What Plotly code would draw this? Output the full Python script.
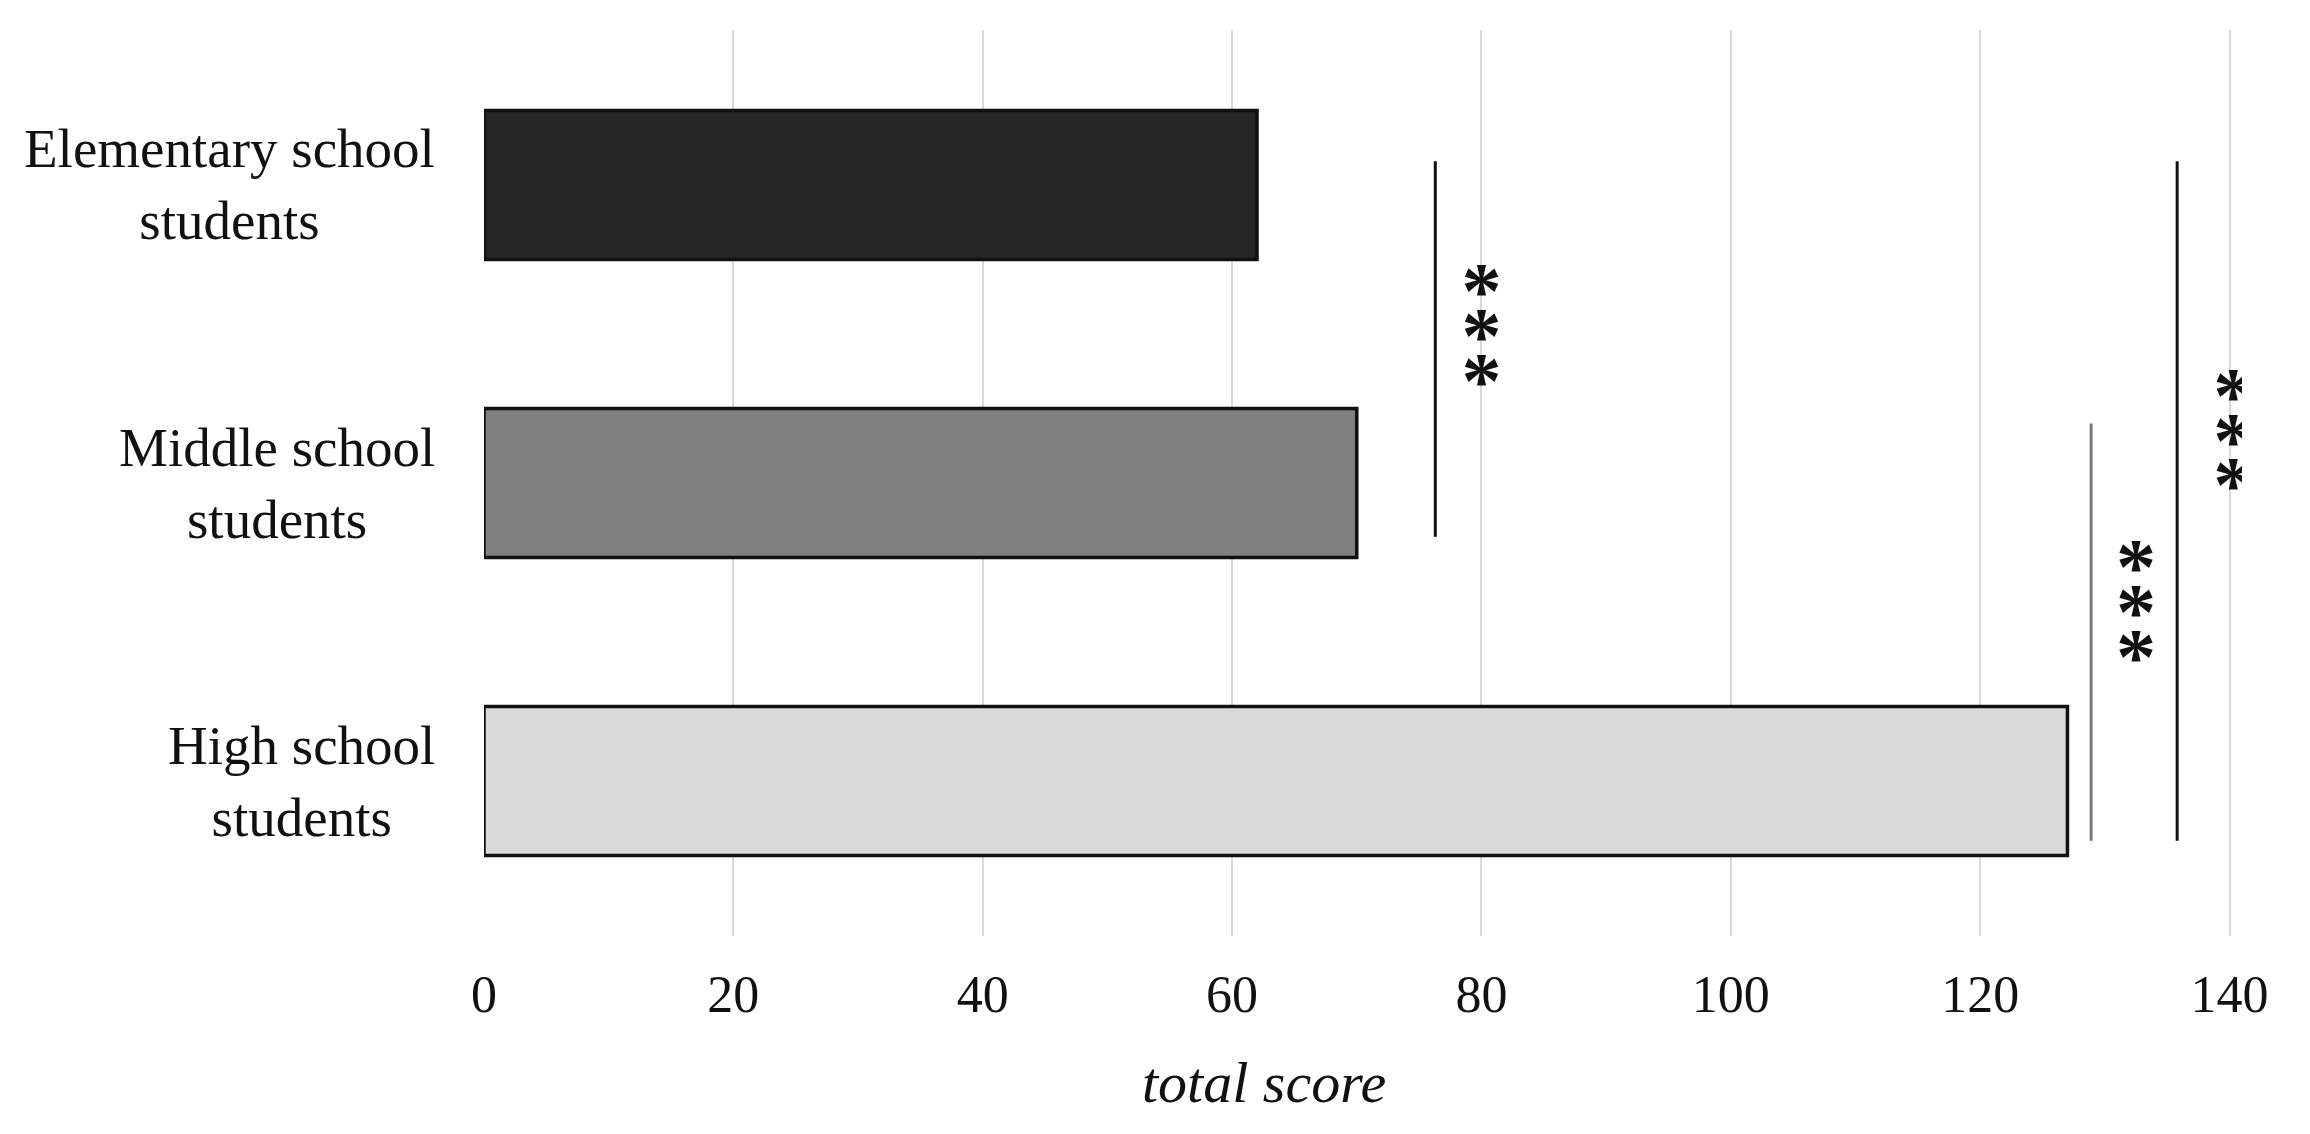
import plotly.graph_objects as go

# group labels and total scores
groups = ["Elementary school<br>students", "Middle school<br>students", "High school<br>students"]
scores = [62, 70, 127]
bar_colors = ["#262626", "#7f7f7f", "#d9d9d9"]
ticks = [0, 20, 40, 60, 80, 100, 120, 140]

# significance brackets: x position, y start/end in category units
bracket_x = [76.3, 128.9, 135.8]
bracket_y0 = [-0.08, 0.80, -0.08]
bracket_y1 = [1.18, 2.20, 2.20]
bracket_colors = ["#111111", "#7a7a7a", "#111111"]

# asterisk stacks (***) next to each bracket
star_x = [80.0, 132.5, 140.3]
star_y = [[0.317, 0.468, 0.619], [1.243, 1.394, 1.545], [0.669, 0.820, 0.968]]
STAR_DROP = 0.062  # the '*' glyph sits high in its line box

FONT = "Liberation Serif"
ypos = list(range(len(groups)))

fig = go.Figure()
fig.add_trace(go.Bar(
    x=scores, y=ypos, orientation="h", width=0.5,
    marker=dict(color=bar_colors, line=dict(color="#111111", width=3.5)),
    showlegend=False, hoverinfo="x"))

for bx, y0, y1, c in zip(bracket_x, bracket_y0, bracket_y1, bracket_colors):
    fig.add_trace(go.Scatter(x=[bx, bx], y=[y0, y1], mode="lines",
                             line=dict(color=c, width=3), showlegend=False,
                             hoverinfo="skip"))

for sx, sy in zip(star_x, star_y):
    fig.add_trace(go.Scatter(x=[sx] * len(sy), y=[v + STAR_DROP for v in sy],
                             mode="text", text=["*"] * len(sy),
                             textposition="middle center",
                             textfont=dict(family=FONT, size=80, color="#111111", weight="bold"),
                             showlegend=False, hoverinfo="skip"))

# category labels, centred lines like the original
for i, g in enumerate(groups):
    fig.add_annotation(text=g, xref="paper", x=0, xanchor="right", xshift=-47,
                       yref="y", y=i, yanchor="middle", align="center",
                       showarrow=False, font=dict(family=FONT, size=55, color="#111111"))

fig.add_annotation(text="<i>total score</i>", xref="paper", x=0.4437, xanchor="center",
                   yref="paper", y=0, yanchor="top", yshift=-112, showarrow=False,
                   font=dict(family=FONT, size=58, color="#111111"))

fig.update_layout(
    width=2310, height=1134,
    margin=dict(l=476, r=76, t=22, b=206),
    paper_bgcolor="white", plot_bgcolor="white",
    font=dict(family=FONT, color="#111111"),
    xaxis=dict(range=[0, 141], tickvals=ticks, showgrid=True, gridcolor="#d9d9d9",
               gridwidth=2, zeroline=False, showline=False, ticks="",
               ticklabelstandoff=23, tickfont=dict(family=FONT, size=52, color="#111111")),
    yaxis=dict(range=[2.52, -0.52], showgrid=False, zeroline=False,
               showticklabels=False, showline=False),
)

fig.write_html("out.html")
